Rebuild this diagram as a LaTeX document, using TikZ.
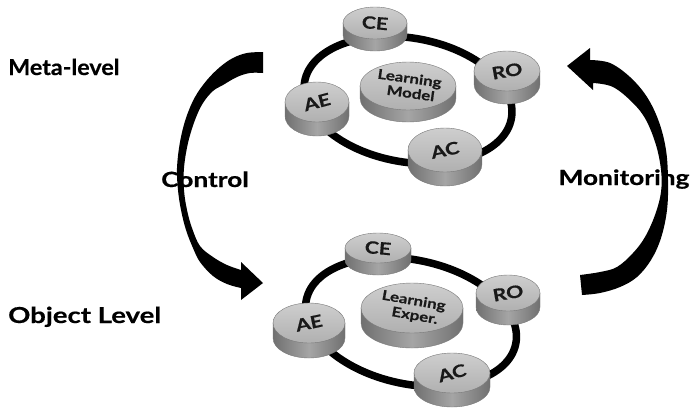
\documentclass[tikz,border=0pt]{standalone}
\usepackage{fontspec}
\newfontfamily\labfont[FakeStretch=1.25, FakeBold=0.5]{Lato}
\newfontfamily\labfontn[FakeStretch=1.06, FakeBold=0.5]{Lato}
\definecolor{topA}{RGB}{206,206,206}
\definecolor{topB}{RGB}{176,176,176}
\definecolor{sideA}{RGB}{112,112,112}
\definecolor{sideB}{RGB}{165,165,165}
\definecolor{rimc}{RGB}{120,120,120}
\definecolor{txtc}{RGB}{25,25,25}
\tikzset{
  biglab/.style={font=\labfont\bfseries\fontsize{22}{26}\selectfont, inner sep=0pt, text=black},
  biglabn/.style={font=\labfontn\bfseries\fontsize{22}{26}\selectfont, inner sep=0pt, text=black},
  midlab/.style={font=\labfont\bfseries\fontsize{21}{24}\selectfont, inner sep=0pt, text=black},
  plabel/.style={font=\labfont\bfseries\fontsize{17}{20}\selectfont, inner sep=0pt, text=txtc},
  llabel/.style={font=\labfont\bfseries\fontsize{13.5}{15}\selectfont, inner sep=0pt, text=txtc},
  ring/.style={draw=black, line width=7.5pt},
  pside/.style={left color=sideA, right color=sideA, middle color=sideB, draw=rimc, line width=0.4pt},
  ptop/.style={top color=topA, bottom color=topB, draw=rimc, line width=0.4pt},
  bigarrow/.style={fill=black},
}
% name, cx, cy, rx, ry, h, label, rotation
\newcommand{\mypuck}[8]{%
  \path[pside] (#2-#4,#3) -- (#2-#4,#3+#6) arc[start angle=180, end angle=0, x radius=#4, y radius=#5] -- (#2+#4,#3) -- cycle;
  \path[ptop] (#2,#3) ellipse[x radius=#4, y radius=#5];
  \node[plabel, rotate=#8] (#1) at (#2,#3) {#7};
}
% name, cx, cy, rx, ry, h, line1, line2, rotation
\newcommand{\mybigpuck}[9]{%
  \path[pside] (#2-#4,#3) -- (#2-#4,#3+#6) arc[start angle=180, end angle=0, x radius=#4, y radius=#5] -- (#2+#4,#3) -- cycle;
  \path[ptop] (#2,#3) ellipse[x radius=#4, y radius=#5];
  \node[llabel, rotate=#9, anchor=base] (#1a) at (#2+1,#3-3) {#7};
  \node[llabel, rotate=#9, anchor=base] (#1b) at (#2+2,#3+12) {#8};
}
\begin{document}
\begin{tikzpicture}[x=1pt, y=-1pt]
\fill[white] (0,0) rectangle (696,416);
\useasboundingbox (0,0) rectangle (696,416);

% ---------- Meta-level ----------
\draw[ring, rotate around={-10:(408,100)}] (408,100) ellipse[x radius=105, y radius=62];
\mypuck{ce1}{375}{23}{32}{16}{12}{CE}{-5}
\mypuck{ro1}{507}{71}{33}{20}{13}{RO}{10}
\mypuck{ae1}{317}{102}{32}{20}{14}{AE}{15}
\mypuck{ac1}{445}{150}{37}{22}{14}{AC}{12}
\mybigpuck{lm}{408}{86}{48}{24}{12}{Learning}{Model}{-8}

% ---------- Object level ----------
\draw[ring, rotate around={-12:(411,322)}] (411,322) ellipse[x radius=107, y radius=62];
\mypuck{ce2}{378}{248}{33}{15}{12}{CE}{-5}
\mypuck{ro2}{508}{293}{32}{18}{14}{RO}{10}
\mypuck{ae2}{309}{323}{36}{20}{15}{AE}{12}
\mypuck{ac2}{452}{373}{38}{20}{14}{AC}{15}
\mybigpuck{le}{412}{308}{51}{25}{15}{Learning}{Exper.}{-10}

% ---------- labels ----------
\node[biglabn, anchor=base west] (meta) at (8,75) {Meta-level};
\node[biglab, anchor=base west] (obj) at (8,323) {Object Level};
\node[midlab, anchor=base] (ctrl) at (205,187) {Control};
\node[midlab, anchor=base] (mon) at (624,185) {Monitoring};

% ---------- Control arrow ----------
\path[bigarrow] plot[smooth, tension=0.6] coordinates {(263,52) (247,53) (233,58) (220,67) (207,80) (195,97) (186,118) (180,142) (177,168) (178,190) (181,210) (186,230) (193,248) (200,262) (213,276) (227,284) (241,288)}
  -- (241,300) -- (263,283) -- (241,262) -- (241,270)
  -- plot[smooth, tension=0.6] coordinates {(241,270) (227,265) (213,257) (200,246) (192,228) (187,210) (184,190) (184,168) (188,143) (195,120) (203,103) (213,91) (223,85) (237,77) (250,73) (263,73)}
  -- cycle;

% ---------- Monitoring arrow ----------
\path[bigarrow] (590,60) -- (590,48) -- (567,66) -- (593,90) -- (593,83)
  -- plot[smooth, tension=0.6] coordinates {(593,83) (613,87) (633,103) (646,120) (656,145) (661,170) (661,192) (655,215) (645,237) (633,253) (617,267) (600,272) (580,275)}
  -- (582,295)
  -- plot[smooth, tension=0.6] coordinates {(582,295) (600,293) (620,287) (637,277) (651,260) (661,238) (667,210) (668,180) (666,150) (659,122) (647,97) (630,77) (610,63) (590,60)}
  -- cycle;
\end{tikzpicture}
\end{document}
